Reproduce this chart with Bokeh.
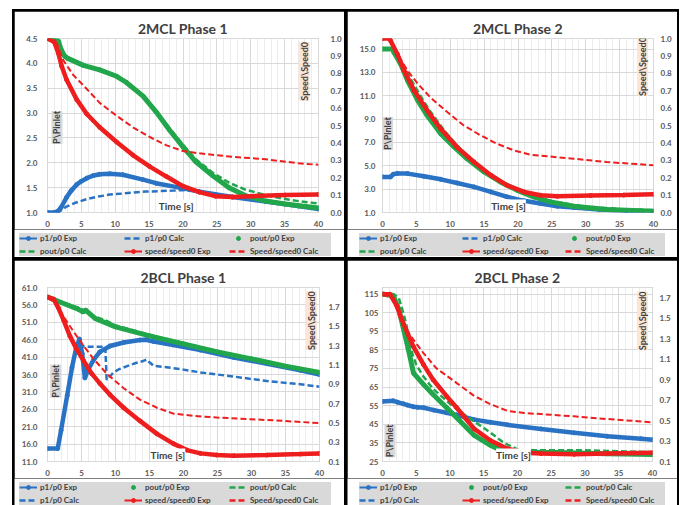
import math
from bokeh.plotting import figure
from bokeh.models import (Range1d, LinearAxis, FixedTicker, NumeralTickFormatter,
                          Label, Legend, LegendItem)
from bokeh.layouts import column, row
from bokeh.embed import file_html
from bokeh.resources import INLINE

# ---------------- shared ticks ----------------
time_ticks = [0, 5, 10, 15, 20, 25, 30, 35, 40]
time_minor = list(range(0, 41))
speed_ticks_a = [0.0, 0.1, 0.2, 0.3, 0.4, 0.5, 0.6, 0.7, 0.8, 0.9, 1.0]
speed_ticks_b = [0.1, 0.3, 0.5, 0.7, 0.9, 1.1, 1.3, 1.5, 1.7]

# ---------------- 2MCL Phase 1 ----------------
mcl1_p_ticks = [1.0, 1.5, 2.0, 2.5, 3.0, 3.5, 4.0, 4.5]
mcl1_p1e_t = [0, 1, 1.5, 2, 2.8, 3.5, 4.3, 5, 5.8, 6.7, 7.7, 9.2, 11.1, 14.1, 16, 19.5, 22.4, 27.3, 32.2, 37, 40]
mcl1_p1e = [1.0, 1.0, 1.02, 1.1, 1.3, 1.44, 1.56, 1.63, 1.69, 1.74, 1.77, 1.78, 1.76, 1.66, 1.59, 1.50, 1.42, 1.31, 1.22, 1.13, 1.07]
mcl1_p1c_t = [0, 1.5, 2, 2.8, 4, 5.8, 7.5, 9.2, 11, 12.6, 14.5, 16.5, 18.5, 20, 22.4, 25, 27.3, 32.2, 37, 40]
mcl1_p1c = [1.0, 1.0, 1.04, 1.12, 1.19, 1.27, 1.32, 1.36, 1.38, 1.40, 1.42, 1.43, 1.44, 1.45, 1.42, 1.37, 1.31, 1.22, 1.13, 1.07]
mcl1_poe_t = [0, 1, 1.6, 2, 2.5, 3, 5.3, 7.7, 10.2, 11.6, 14.1, 16, 18, 20, 21.9, 24.4, 26.8, 29.2, 32.2, 35.1, 37.5, 40]
mcl1_poe = [4.5, 4.48, 4.45, 4.28, 4.15, 4.1, 3.96, 3.87, 3.74, 3.62, 3.34, 3.03, 2.66, 2.32, 2.02, 1.74, 1.50, 1.34, 1.23, 1.17, 1.13, 1.09]
mcl1_poc_t = [0, 1, 1.6, 2, 2.5, 3, 5.3, 7.7, 10.2, 11.6, 14.1, 16, 18, 20, 21.9, 24.4, 26.8, 29.2, 32.2, 35.1, 37.5, 40]
mcl1_poc = [4.5, 4.48, 4.45, 4.3, 4.17, 4.1, 3.97, 3.88, 3.75, 3.63, 3.35, 3.05, 2.7, 2.36, 2.07, 1.8, 1.6, 1.46, 1.35, 1.27, 1.22, 1.18]
mcl1_spe_t = [0, 1, 1.6, 2.1, 2.8, 4.3, 5.8, 7.7, 10.2, 12.6, 15.1, 17.5, 20, 22.4, 24.8, 27.3, 30.2, 35.1, 40]
mcl1_spe = [1.0, 0.98, 0.915, 0.84, 0.764, 0.65, 0.566, 0.49, 0.405, 0.33, 0.264, 0.208, 0.151, 0.117, 0.094, 0.089, 0.094, 0.10, 0.104]
mcl1_spc_t = [0, 1.4, 2.3, 3.8, 5.8, 7.7, 10.2, 12.6, 15.1, 17.5, 20, 22.4, 27.3, 32.2, 37, 40]
mcl1_spc = [1.0, 0.97, 0.877, 0.79, 0.71, 0.63, 0.556, 0.49, 0.434, 0.387, 0.353, 0.34, 0.32, 0.306, 0.283, 0.274]

# ---------------- 2MCL Phase 2 ----------------
mcl2_p_ticks = [1.0, 3.0, 5.0, 7.0, 9.0, 11.0, 13.0, 15.0]
mcl2_p1e_t = [0, 1.2, 1.6, 2.2, 3.7, 6.1, 8.6, 11, 13.5, 16, 18.4, 20.9, 23.3, 25.8, 28.2, 32, 36, 40]
mcl2_p1e = [4.05, 4.05, 4.28, 4.35, 4.33, 4.1, 3.84, 3.53, 3.19, 2.76, 2.34, 2.0, 1.77, 1.54, 1.43, 1.25, 1.13, 1.07]
mcl2_p1c_t = [0, 1.2, 1.6, 2.2, 3.7, 6.1, 8.6, 11, 13.5, 16, 18.4, 20.9, 23.3, 25.8, 28.2, 32, 36, 40]
mcl2_p1c = [4.05, 4.05, 4.28, 4.35, 4.33, 4.1, 3.84, 3.53, 3.19, 2.76, 2.34, 2.0, 1.77, 1.54, 1.43, 1.25, 1.13, 1.07]
mcl2_poe_t = [0, 1.5, 1.7, 2.7, 3.7, 5.2, 6.6, 8.6, 10.6, 12.5, 15, 17.4, 19.9, 22.3, 24.8, 28.2, 33.1, 40]
mcl2_poe = [15.0, 15.0, 14.7, 13.7, 12.3, 10.6, 9.3, 7.74, 6.6, 5.6, 4.47, 3.62, 2.9, 2.34, 1.91, 1.54, 1.26, 1.11]
mcl2_poc_t = [0, 1.2, 2, 3, 4, 5, 6, 7, 8, 9, 10, 12, 14, 16, 18, 20, 22, 25, 30, 35, 40]
mcl2_poc = [15.0, 15.0, 14.6, 13.7, 12.6, 11.6, 10.6, 9.7, 8.9, 8.1, 7.4, 6.1, 5.0, 4.1, 3.4, 2.8, 2.4, 1.95, 1.5, 1.3, 1.2]
mcl2_spe_t = [0, 1, 1.2, 2.2, 3.2, 4.7, 6.6, 8.6, 11, 13.5, 16, 18.4, 20.9, 23.3, 25.8, 30.7, 35.6, 40]
mcl2_spe = [1.0, 1.0, 0.987, 0.91, 0.815, 0.70, 0.586, 0.481, 0.376, 0.29, 0.214, 0.156, 0.118, 0.099, 0.093, 0.097, 0.10, 0.105]
mcl2_spc_t = [0, 1, 2.2, 3.7, 5.2, 7.1, 9.6, 12, 14.5, 16.9, 19.4, 21.8, 24.3, 28.2, 33.1, 38, 40]
mcl2_spc = [1.0, 1.0, 0.91, 0.815, 0.74, 0.66, 0.576, 0.5, 0.443, 0.395, 0.357, 0.332, 0.323, 0.309, 0.29, 0.277, 0.271]

# ---------------- 2BCL Phase 1 ----------------
bcl1_p_ticks = [11.0, 16.0, 21.0, 26.0, 31.0, 36.0, 41.0, 46.0, 51.0, 56.0, 61.0]
bcl1_p1e_t = [0, 1.5, 2.0, 2.9, 3.6, 4.2, 4.7, 5.1, 5.5, 6.0, 6.8, 7.7, 9.2, 11.2, 13.6, 14.5, 15.6, 18.5, 22.5, 27.4, 32.3, 37.2, 40]
bcl1_p1e = [14.7, 14.7, 20.0, 30.0, 38.0, 43.5, 46.2, 42.0, 35.0, 37.5, 40.3, 42.5, 44.2, 45.2, 45.9, 46.0, 45.5, 44.5, 43.0, 40.9, 39.1, 37.2, 36.0]
bcl1_p1c_t = [0, 1.5, 2.0, 2.9, 3.6, 4.2, 4.7, 5.0, 5.4, 7.0, 8.5, 8.7, 9.0, 9.7, 10.5, 11.7, 13.0, 14.1, 14.6, 15.0, 15.6, 17.5, 20, 22.5, 27.4, 32.3, 37.2, 40]
bcl1_p1c = [14.7, 14.7, 20.0, 30.0, 38.0, 43.5, 46.2, 44.5, 44.0, 44.0, 44.0, 34.5, 35.0, 36.6, 37.5, 38.4, 39.3, 39.9, 40.3, 39.5, 38.5, 38.1, 37.4, 36.6, 35.4, 34.1, 33.2, 32.5]
bcl1_poe_t = [0, 2, 4.5, 5.2, 5.6, 7, 10, 15, 20, 25, 30, 35, 40]
bcl1_poe = [58.3, 56.7, 54.8, 54.0, 54.5, 52.1, 49.7, 47.1, 44.8, 42.5, 40.5, 38.4, 36.6]
bcl1_poc_t = [0, 2, 5, 7, 8.5, 10, 15, 20, 25, 30, 35, 40]
bcl1_poc = [58.3, 56.9, 54.8, 52.6, 51.6, 50.1, 47.4, 45.0, 42.7, 40.6, 38.5, 36.8]
bcl1_spe_t = [0, 0.9, 1.6, 2.35, 3.3, 4.3, 5.3, 6.5, 7.7, 9.2, 11.2, 13.6, 16.1, 18.5, 20.5, 22.5, 24.9, 27.4, 32.3, 37.2, 40]
bcl1_spe = [1.80, 1.78, 1.69, 1.565, 1.397, 1.26, 1.144, 1.009, 0.908, 0.79, 0.656, 0.52, 0.386, 0.285, 0.218, 0.184, 0.167, 0.16, 0.167, 0.177, 0.184]
bcl1_spc_t = [0, 1.1, 2.35, 3.8, 5.3, 6.8, 8.7, 11.2, 13.6, 16.1, 18.5, 21.5, 24.9, 29.8, 34.7, 40]
bcl1_spc = [1.80, 1.74, 1.60, 1.447, 1.296, 1.16, 1.009, 0.858, 0.74, 0.656, 0.595, 0.572, 0.555, 0.538, 0.52, 0.497]

# ---------------- 2BCL Phase 2 ----------------
bcl2_p_ticks = [25, 35, 45, 55, 65, 75, 85, 95, 105, 115]
bcl2_p1e_t = [0, 1.6, 2.2, 3.1, 3.7, 4.6, 5.2, 6.1, 7.6, 9.5, 11, 13.6, 16, 18.5, 23.5, 28.4, 33.3, 38.3, 40]
bcl2_p1e = [57.3, 57.6, 56.9, 56.0, 55.3, 54.4, 54.1, 53.9, 52.6, 51.2, 50.0, 47.5, 46.1, 44.7, 42.5, 40.4, 38.6, 37.2, 36.7]
bcl2_p1c_t = [0, 1.6, 2.2, 3.1, 3.7, 4.6, 5.2, 6.1, 7.6, 9.5, 11, 13.6, 16, 18.5, 23.5, 28.4, 33.3, 38.3, 40]
bcl2_p1c = [57.3, 57.6, 56.9, 56.0, 55.3, 54.4, 54.1, 53.9, 52.6, 51.2, 50.0, 47.5, 46.1, 44.7, 42.5, 40.4, 38.6, 37.2, 36.7]
bcl2_poe_t = [0, 1.6, 2.4, 3.1, 3.8, 4.6, 6.1, 7.5, 9.5, 11, 13.6, 16, 17.5, 18.5, 21, 25.9, 33.3, 40]
bcl2_poe = [115, 114, 107, 96.4, 85.8, 72.5, 66.3, 61, 53.9, 48.5, 39, 33.7, 31, 30.1, 29.8, 29.8, 29.2, 28.7]
bcl2_poc_t = [0, 1.6, 2.4, 3, 3.5, 4, 4.5, 5, 6, 7.5, 10, 12, 14, 16, 18, 20, 21, 25, 30, 35, 40]
bcl2_poc = [115, 115, 113, 106, 99, 90, 82, 77, 71, 64, 56, 50.5, 45.5, 40.5, 35, 31.5, 31, 31, 31, 30.5, 30]
bcl2_spe_t = [0, 1.1, 2.1, 3.1, 4.6, 6.1, 7.5, 9.5, 11, 13.6, 16, 18.5, 21, 23.5, 28.4, 33.3, 40]
bcl2_spe = [1.735, 1.735, 1.623, 1.445, 1.22, 1.044, 0.899, 0.738, 0.625, 0.418, 0.305, 0.225, 0.186, 0.177, 0.17, 0.177, 0.186]
bcl2_spc_t = [0, 1.6, 2.6, 4.1, 6.1, 8, 11, 13.6, 16, 18.5, 21, 23.5, 28.4, 33.3, 40]
bcl2_spc = [1.735, 1.687, 1.494, 1.333, 1.156, 1.01, 0.866, 0.74, 0.66, 0.595, 0.573, 0.563, 0.541, 0.515, 0.483]

legend_labels = {"p1e": "p1/p0 Exp", "p1c": "p1/p0 Calc", "poe": "pout/p0 Exp",
                 "poc": "pout/p0 Calc", "spe": "speed/speed0 Exp", "spc": "Speed/speed0 Calc"}
order_top = ["p1e", "p1c", "poe", "poc", "spe", "spc"]
order_bottom = ["p1e", "poe", "poc", "p1c", "spe", "spc"]

BLUE = "#2a72c4"
GREEN = "#22a64b"
RED = "#ee1e1e"
FONT = "Lato"
TXT = "#404040"
TICK = "#595959"
W = 330
H_MAIN = 218
H_LEG = 28

# legend sample styles (thin line with a dot for the Exp series, as in the original)
STYLE = {
    "p1e": [("line", dict(color=BLUE, line_width=2)), ("scatter", dict(color=BLUE, size=6))],
    "p1c": [("line", dict(color=BLUE, line_width=2.5, line_dash="6 3"))],
    "poe": [("scatter", dict(color=GREEN, size=6))],
    "poc": [("line", dict(color=GREEN, line_width=2.5, line_dash="6 3"))],
    "spe": [("line", dict(color=RED, line_width=2)), ("scatter", dict(color=RED, size=6))],
    "spc": [("line", dict(color=RED, line_width=2.5, line_dash="6 3"))],
}


def build(title, d, left, right, lticks, lfmt, rticks, order, g):
    p = figure(width=W, height=H_MAIN, x_range=Range1d(0, 40), y_range=Range1d(*left),
               output_backend="svg", toolbar_location=None,
               min_border_left=g["l"], min_border_right=g["r"],
               min_border_top=g["t"], min_border_bottom=g["b"])
    p.extra_y_ranges = {"right": Range1d(*right)}
    p.background_fill_color = "white"
    p.border_fill_color = "white"
    p.outline_line_color = "#d9d9d9"

    p.title.text = title
    p.title.align = "center"
    p.title.text_font = FONT
    p.title.text_font_style = "bold"
    p.title.text_font_size = "14px"
    p.title.text_color = TXT
    p.title.standoff = 3

    xa = p.xaxis[0]
    xa.ticker = FixedTicker(ticks=time_ticks, minor_ticks=time_minor)
    ya = p.yaxis[0]
    ya.ticker = FixedTicker(ticks=lticks)
    ya.formatter = NumeralTickFormatter(format=lfmt)
    ra = LinearAxis(y_range_name="right", ticker=FixedTicker(ticks=rticks),
                    formatter=NumeralTickFormatter(format="0.0"))
    p.add_layout(ra, "right")
    for ax, so in ((xa, 4), (ya, g["ls"]), (ra, g["rs"])):
        ax.axis_line_color = None
        ax.major_tick_line_color = None
        ax.minor_tick_line_color = None
        ax.major_tick_out = 0
        ax.major_label_standoff = so
        ax.major_label_text_font = FONT
        ax.major_label_text_font_style = "bold"
        ax.major_label_text_font_size = "8px"
        ax.major_label_text_color = TICK

    p.xgrid.grid_line_color = "#d9d9d9"
    p.xgrid.minor_grid_line_color = "#ececec"
    p.ygrid.grid_line_color = "#d9d9d9"

    p.line(d["p1e_t"], d["p1e"], color=BLUE, line_width=4.5)
    p.scatter(d["p1e_t"], d["p1e"], color=BLUE, size=4)
    p.line(d["p1c_t"], d["p1c"], color=BLUE, line_width=2.5, line_dash="6 3")
    p.line(d["poe_t"], d["poe"], color=GREEN, line_width=5)
    p.scatter(d["poe_t"], d["poe"], color=GREEN, size=4)
    p.line(d["poc_t"], d["poc"], color=GREEN, line_width=2.5, line_dash="6 3")
    p.line(d["spe_t"], d["spe"], color=RED, line_width=4.5, y_range_name="right")
    p.scatter(d["spe_t"], d["spe"], color=RED, size=4, y_range_name="right")
    p.line(d["spc_t"], d["spc"], color=RED, line_width=2, line_dash="6 3", y_range_name="right")

    p.add_layout(Label(x=g["time"], y=left[0], y_offset=1, text="Time [s]",
                       text_align="center", text_baseline="bottom", text_font=FONT,
                       text_font_style="bold", text_font_size="10px", text_color=TXT,
                       background_fill_color="white", background_fill_alpha=1.0))
    p.add_layout(Label(x=g["pin"][0], y=g["pin"][1], text="P\\Pinlet", angle=math.pi / 2,
                       text_align="center", text_baseline="middle", text_font=FONT,
                       text_font_style="bold", text_font_size="9px", text_color=TXT,
                       background_fill_color="#d9d9d9", background_fill_alpha=1.0))
    p.add_layout(Label(x=g["spd"][0], y=g["spd"][1], text="Speed\\Speed0", angle=math.pi / 2,
                       text_align="center", text_baseline="middle", text_font=FONT,
                       text_font_style="bold", text_font_size="9px", text_color=TXT,
                       background_fill_color="#fbe5d6", background_fill_alpha=1.0))

    # legend strip: same series, drawn outside the strip's visible range so only the
    # legend samples show
    lg = figure(width=W, height=H_LEG, x_range=Range1d(-20, -10), y_range=Range1d(-20, -10),
                output_backend="svg", toolbar_location=None, x_axis_type=None,
                y_axis_type=None, min_border_left=0, min_border_right=0,
                min_border_top=0, min_border_bottom=0)
    lg.grid.visible = False
    lg.outline_line_color = None
    lg.background_fill_color = "white"
    lg.border_fill_color = "white"
    rend = {}
    for k, parts in STYLE.items():
        rs = []
        for kind, kw in parts:
            if kind == "line":
                rs.append(lg.line(d[k + "_t"], d[k], **kw))
            else:
                rs.append(lg.scatter(d[k + "_t"], d[k], **kw))
        rend[k] = rs
    items = [LegendItem(label=legend_labels[k], renderers=rend[k]) for k in order]
    leg = Legend(items=items, location=(g["lx"], 1), orientation="horizontal", ncols=3,
                 background_fill_color="#d9d9d9", background_fill_alpha=1.0,
                 border_line_color=None, padding=2, spacing=3, margin=0,
                 glyph_width=18, glyph_height=10, label_height=10, label_width=g["lw"],
                 label_standoff=3, label_text_font=FONT, label_text_font_style="bold",
                 label_text_font_size="8px", label_text_color=TXT)
    lg.add_layout(leg, "center")
    return column(row(p), row(lg), spacing=0)


def pack(prefix):
    ns = globals()
    out = {}
    for k in ["p1e", "p1c", "poe", "poc", "spe", "spc"]:
        out[k] = ns[prefix + "_" + k]
        out[k + "_t"] = ns[prefix + "_" + k + "_t"]
    return out


c1 = build("2MCL Phase 1", pack("mcl1"), (1.0, 4.5), (0.0, 1.0), mcl1_p_ticks, "0.0",
           speed_ticks_a, order_top,
           dict(l=33, r=25, t=27, b=13, ls=10, rs=12, lx=5, lw=81,
                time=19, pin=(1.4, 2.71), spd=(37.9, 3.84)))
c2 = build("2MCL Phase 2", pack("mcl2"), (1.0, 15.9), (0.0, 1.0), mcl2_p_ticks, "0.0",
           speed_ticks_a, order_top,
           dict(l=35, r=24, t=27, b=17, ls=7, rs=7, lx=12, lw=79,
                time=18.6, pin=(0.75, 7.76), spd=(38.4, 13.5)))
c3 = build("2BCL Phase 1", pack("bcl1"), (11.0, 61.0), (0.1, 1.9), bcl1_p_ticks, "0.0",
           speed_ticks_b, order_bottom,
           dict(l=33, r=25, t=27, b=14, ls=10, rs=9, lx=5, lw=81,
                time=17.7, pin=(1.2, 34.1), spd=(38.8, 51.5)))
c4 = build("2BCL Phase 2", pack("bcl2"), (25, 118.5), (0.1, 1.8), bcl2_p_ticks, "0",
           speed_ticks_b, order_bottom,
           dict(l=35, r=25, t=27, b=15, ls=4, rs=7, lx=12, lw=79,
                time=19.4, pin=(1.1, 36.1), spd=(38.5, 100.6)))

layout = column(row(c1, c2, spacing=3), row(c3, c4, spacing=3), spacing=3)
layout.margin = (11, 0, 0, 14)
layout.styles = {"background-color": "black", "outline": "2px solid black"}

open("out.html", "w").write(file_html(layout, INLINE))
